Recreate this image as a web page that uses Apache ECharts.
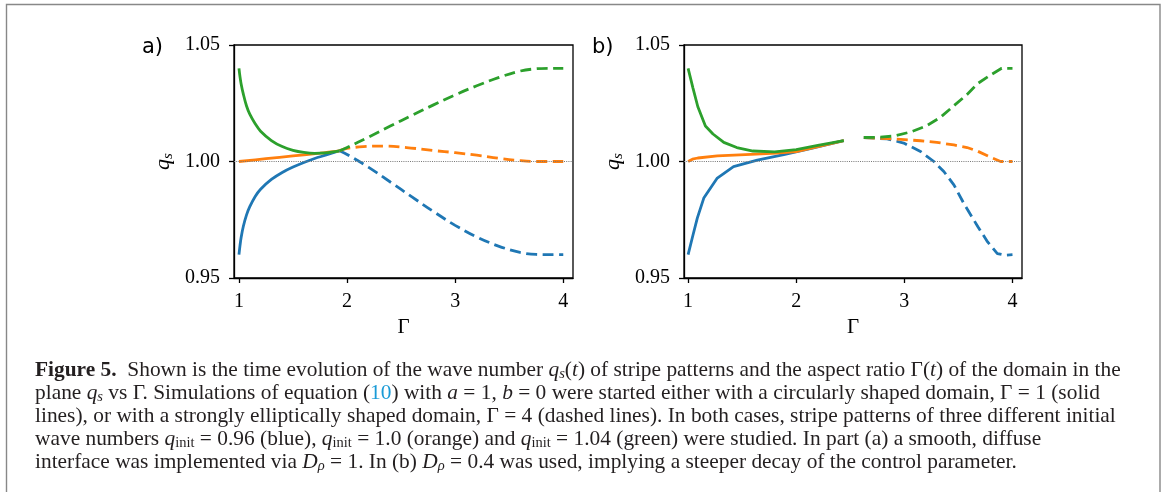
<!DOCTYPE html>
<html><head><meta charset="utf-8">
<script src="https://cdn.jsdelivr.net/npm/echarts@6/dist/echarts.min.js"></script>
<style>html,body{margin:0;padding:0;background:#fff;} #c{width:1165px;height:492px;}</style>
</head><body><div id="c"></div>
<script>
// ---- tick values ----
const xTicks = [1, 2, 3, 4];
const yTicks = [0.95, 1.00, 1.05];
const panelLabels = ['a)', 'b)'];

// ---- panel a: [Γ, q_s] ----
const aBlueSolid = [[1.0,0.9600],[1.01,0.9641],[1.02,0.9674],[1.04,0.9721],[1.07,0.9771],[1.1,0.9806],[1.15,0.9850],[1.2,0.9881],[1.3,0.9923],[1.4,0.9953],[1.5,0.9976],[1.6,0.9996],[1.7,1.0013],[1.8,1.0027],[1.93,1.0046]];
const aOrangeSolid = [[1.0,1.0000],[1.25,1.0012],[1.5,1.0024],[1.75,1.0036],[1.93,1.0046]];
const aGreenSolid = [[1.0,1.0400],[1.01,1.0362],[1.02,1.0333],[1.04,1.0290],[1.07,1.0238],[1.1,1.0203],[1.15,1.0162],[1.2,1.0130],[1.3,1.0090],[1.4,1.0064],[1.5,1.0048],[1.6,1.0039],[1.7,1.0035],[1.8,1.0037],[1.93,1.0046]];
const aBlueDashed = [[1.93,1.0046],[2.0,1.0030],[2.2,0.9975],[2.4,0.9912],[2.6,0.9848],[2.8,0.9785],[3.0,0.9726],[3.2,0.9676],[3.4,0.9637],[3.6,0.9610],[3.75,0.9601],[3.9,0.9600],[4.0,0.9600]];
const aOrangeDashed = [[1.93,1.0046],[2.0,1.0056],[2.15,1.0064],[2.35,1.0066],[2.55,1.0060],[2.8,1.0047],[3.0,1.0038],[3.2,1.0027],[3.4,1.0014],[3.6,1.0004],[3.75,1.0000],[4.0,1.0000]];
const aGreenDashed = [[1.93,1.0046],[2.0,1.0060],[2.2,1.0105],[2.4,1.0152],[2.6,1.0198],[2.8,1.0243],[3.0,1.0286],[3.2,1.0325],[3.4,1.0360],[3.6,1.0388],[3.75,1.0398],[3.9,1.0400],[4.0,1.0400]];

// ---- panel b: [Γ, q_s] ----
const bBlueSolid = [[1.0,0.960],[1.04,0.9675],[1.085,0.9757],[1.145,0.9843],[1.27,0.9929],[1.42,0.9978],[1.64,1.0006],[1.885,1.0029],[2.13,1.0055],[2.44,1.0090]];
const bOrangeSolid = [[1.0,1.0000],[1.04,1.0010],[1.09,1.0015],[1.27,1.0024],[1.58,1.0031],[1.82,1.0036],[2.0,1.0042],[2.2,1.0064],[2.44,1.0090]];
const bGreenSolid = [[1.0,1.040],[1.045,1.0315],[1.09,1.0235],[1.16,1.0152],[1.23,1.0118],[1.33,1.0082],[1.45,1.0060],[1.6,1.0045],[1.8,1.0041],[2.0,1.0051],[2.2,1.0069],[2.44,1.0090]];
const bBlueDashed = [[2.625,1.0103],[2.841,1.0097],[2.995,1.0079],[3.149,1.0043],[3.273,1.0000],[3.365,0.9957],[3.458,0.9900],[3.55,0.9820],[3.68,0.9720],[3.77,0.9655],[3.86,0.9605],[3.93,0.9598],[4.0,0.9600]];
const bOrangeDashed = [[2.625,1.0103],[2.841,1.0098],[3.0,1.0094],[3.149,1.0089],[3.3,1.0082],[3.458,1.0071],[3.58,1.0060],[3.674,1.0045],[3.797,1.0018],[3.89,1.0000],[4.0,1.0000]];
const bGreenDashed = [[2.625,1.0103],[2.75,1.0104],[2.9,1.0109],[3.06,1.0127],[3.2,1.0152],[3.33,1.0188],[3.45,1.0236],[3.58,1.0288],[3.68,1.0335],[3.8,1.0372],[3.9,1.0400],[4.0,1.0400]];

const refLine = 1.0;

// ---- caption ----
const captionLines = [
 '{b|Figure 5.}  Shown is the time evolution of the wave number {i|q}{si|s}({i|t}) of stripe patterns and the aspect ratio Γ({i|t}) of the domain in the',
 'plane {i|q}{si|s} vs Γ. Simulations of equation ({l|10}) with {i|a} = 1, {i|b} = 0 were started either with a circularly shaped domain, Γ = 1 (solid',
 'lines), or with a strongly elliptically shaped domain, Γ = 4 (dashed lines). In both cases, stripe patterns of three different initial',
 'wave numbers {i|q}{sr|init} = 0.96 (blue), {i|q}{sr|init} = 1.0 (orange) and {i|q}{sr|init} = 1.04 (green) were studied. In part (a) a smooth, diffuse',
 'interface was implemented via {i|D}{si|ρ} = 1. In (b) {i|D}{si|ρ} = 0.4 was used, implying a steeper decay of the control parameter.'
];

const BLUE = '#1f77b4', ORANGE = '#ff7f0e', GREEN = '#2ca02c';
const SERIF = 'Liberation Serif';
const CAP_FS = 21.4, CAP_SUB = 14.5, CAP_LH = 23, CAP_COLOR = '#231f20';

function mkSeries(data, color, dashed, gi, smooth, withRef) {
  const s = {
    type: 'line', xAxisIndex: gi, yAxisIndex: gi, data: data,
    showSymbol: false, symbol: 'none', smooth: smooth,
    silent: true, animation: false,
    lineStyle: { color: color, width: 2.8, type: dashed ? [11, 5.5] : 'solid', cap: 'butt' },
    itemStyle: { color: color }
  };
  if (withRef) {
    s.markLine = {
      silent: true, symbol: 'none', animation: false,
      label: { show: false },
      lineStyle: { color: '#777', width: 1.1, type: [1, 1.2] },
      data: [{ yAxis: refLine }]
    };
  }
  return s;
}

function mkX(gi, min, max) {
  return {
    gridIndex: gi, type: 'value', min: min, max: max,
    axisLine: { show: true, onZero: false, lineStyle: { color: '#000', width: 1.3 } },
    axisTick: { show: true, customValues: xTicks, length: 5, lineStyle: { color: '#000', width: 1.3 } },
    axisLabel: { customValues: xTicks, margin: 14, fontFamily: SERIF, fontSize: 20, color: '#000', lineHeight: 20 },
    splitLine: { show: false },
    name: 'Γ', nameLocation: 'middle', nameGap: 39,
    nameTextStyle: { fontFamily: SERIF, fontSize: 21, color: '#000' }
  };
}
function mkY(gi) {
  return {
    gridIndex: gi, type: 'value', min: 0.95, max: 1.05,
    axisLine: { show: true, onZero: false, lineStyle: { color: '#000', width: 1.3 } },
    axisTick: { show: true, customValues: yTicks, length: 5, lineStyle: { color: '#000', width: 1.3 } },
    axisLabel: { customValues: yTicks, margin: 14, fontFamily: SERIF, fontSize: 20, color: '#000',
                 formatter: v => v.toFixed(2) },
    splitLine: { show: false },
    name: '{q|q}{s|s}', nameLocation: 'middle', nameGap: 58, nameRotate: 90,
    nameTextStyle: {
      lineHeight: 26,
      rich: {
        q: { fontFamily: SERIF, fontSize: 22, fontStyle: 'italic', color: '#000', lineHeight: 26 },
        s: { fontFamily: SERIF, fontSize: 15, fontStyle: 'italic', color: '#000', verticalAlign: 'bottom' }
      }
    }
  };
}

const capRich = {
  b: { fontFamily: SERIF, fontSize: CAP_FS, fontWeight: 'bold', fill: CAP_COLOR, lineHeight: CAP_LH },
  i: { fontFamily: SERIF, fontSize: CAP_FS, fontStyle: 'italic', fill: CAP_COLOR, lineHeight: CAP_LH },
  si: { fontFamily: SERIF, fontSize: CAP_SUB, fontStyle: 'italic', fill: CAP_COLOR, verticalAlign: 'bottom' },
  sr: { fontFamily: SERIF, fontSize: CAP_SUB, fill: CAP_COLOR, verticalAlign: 'bottom' },
  l: { fontFamily: SERIF, fontSize: CAP_FS, fill: '#1a9bd7', lineHeight: CAP_LH }
};

const option = {
  animation: false,
  backgroundColor: '#fff',
  title: [
    { text: panelLabels[0], left: 142, top: 37, padding: 0,
      textStyle: { fontFamily: 'DejaVu Sans', fontSize: 21, fontWeight: 'normal', color: '#000' } },
    { text: panelLabels[1], left: 592, top: 37, padding: 0,
      textStyle: { fontFamily: 'DejaVu Sans', fontSize: 21, fontWeight: 'normal', color: '#000' } }
  ],
  grid: [
    { left: 234, top: 45, width: 339, height: 233, show: true, borderColor: '#000', borderWidth: 1.3, containLabel: false },
    { left: 684, top: 45, width: 338, height: 233, show: true, borderColor: '#000', borderWidth: 1.3, containLabel: false }
  ],
  xAxis: [mkX(0, 0.954, 4.09), mkX(1, 0.962, 4.088)],
  yAxis: [mkY(0), mkY(1)],
  series: [
    mkSeries(aBlueSolid, BLUE, false, 0, 0.35),
    mkSeries(aOrangeSolid, ORANGE, false, 0, 0.35),
    mkSeries(aGreenSolid, GREEN, false, 0, 0.35),
    mkSeries(aBlueDashed, BLUE, true, 0, 0.35),
    mkSeries(aOrangeDashed, ORANGE, true, 0, 0.35),
    mkSeries(aGreenDashed, GREEN, true, 0, 0.35, true),
    mkSeries(bBlueSolid, BLUE, false, 1, false),
    mkSeries(bOrangeSolid, ORANGE, false, 1, false),
    mkSeries(bGreenSolid, GREEN, false, 1, false),
    mkSeries(bBlueDashed, BLUE, true, 1, false),
    mkSeries(bOrangeDashed, ORANGE, true, 1, false),
    mkSeries(bGreenDashed, GREEN, true, 1, false, true)
  ],
  graphic: [
    { type: 'rect', silent: true, z: -1,
      shape: { x: 6.5, y: 4.5, width: 1153.5, height: 600 },
      style: { fill: 'none', stroke: '#888', lineWidth: 1.4 } },
    { type: 'text', left: 35, top: 359, silent: true,
      style: { text: captionLines.join('\n'), rich: capRich, fontFamily: SERIF, fontSize: CAP_FS,
               fill: CAP_COLOR, lineHeight: CAP_LH } }
  ]
};

const chart = echarts.init(document.getElementById('c'), null, { renderer: 'canvas' });
chart.setOption(option);
</script>
</body></html>
